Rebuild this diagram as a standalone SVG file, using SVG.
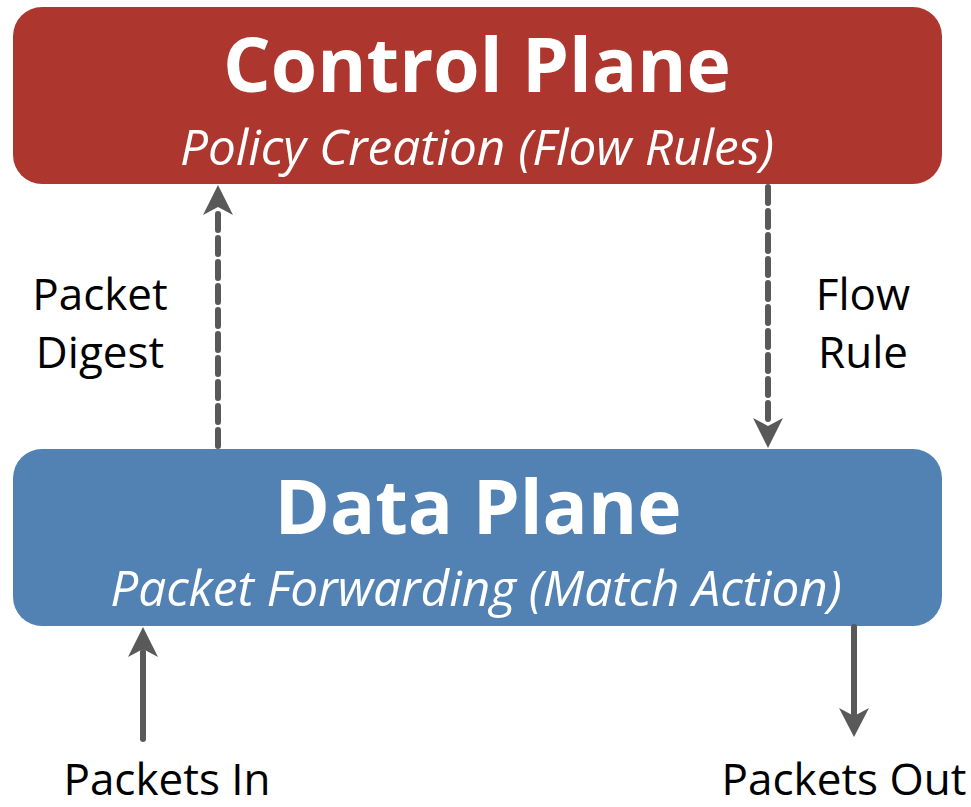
<svg xmlns="http://www.w3.org/2000/svg" width="971" height="807" viewBox="0 0 971 807">
  <style>
    text { font-family: "Open Sans", "Noto Sans", "Liberation Sans", sans-serif; text-anchor: middle; }
    .title { font-size: 75px; font-weight: bold; fill: #ffffff; }
    .sub { font-size: 49.5px; font-style: italic; fill: #ffffff; }
    .label { font-size: 44px; fill: #000000; }
    .dash { stroke: #595959; stroke-width: 6; stroke-linecap: round; stroke-dasharray: 16 8; fill: none; }
    .solid { stroke: #595959; stroke-width: 6; stroke-linecap: round; fill: none; }
    .head { fill: #595959; }
  </style>

  <g id="control-plane">
    <rect x="13" y="7" width="929" height="177" rx="29" fill="#AD372E"/>
    <text class="title" x="477" y="92">Control Plane</text>
    <text class="sub" x="477" y="165">Policy Creation (Flow Rules)</text>
  </g>

  <g id="data-plane">
    <rect x="13" y="449" width="929" height="177" rx="29" fill="#5282B3"/>
    <text class="title" x="478" y="534">Data Plane</text>
    <text class="sub" x="476" y="606">Packet Forwarding (Match Action)</text>
  </g>

  <g id="connectors">
    <!-- packet digest: data plane up to control plane -->
    <path class="dash" d="M218 446 V212"/>
    <path class="head" d="M218 185 L233 215 L218 207 L203 215 Z"/>
    <!-- flow rule: control plane down to data plane -->
    <path class="dash" d="M768 187 V420"/>
    <path class="head" d="M768 448 L753 418 L768 426 L783 418 Z"/>
    <!-- packets in -->
    <path class="solid" d="M143 739 V652"/>
    <path class="head" d="M143 627 L158 657 L143 649 L128 657 Z"/>
    <!-- packets out -->
    <path class="solid" d="M854 627 V714"/>
    <path class="head" d="M854 737 L839 708 L854 716 L869 708 Z"/>
  </g>

  <g id="labels">
    <text class="label" x="100" y="310">Packet</text>
    <text class="label" x="100" y="368">Digest</text>
    <text class="label" x="863" y="310">Flow</text>
    <text class="label" x="863" y="368">Rule</text>
    <text class="label" x="167" y="795">Packets In</text>
    <text class="label" x="844" y="795">Packets Out</text>
  </g>
</svg>
